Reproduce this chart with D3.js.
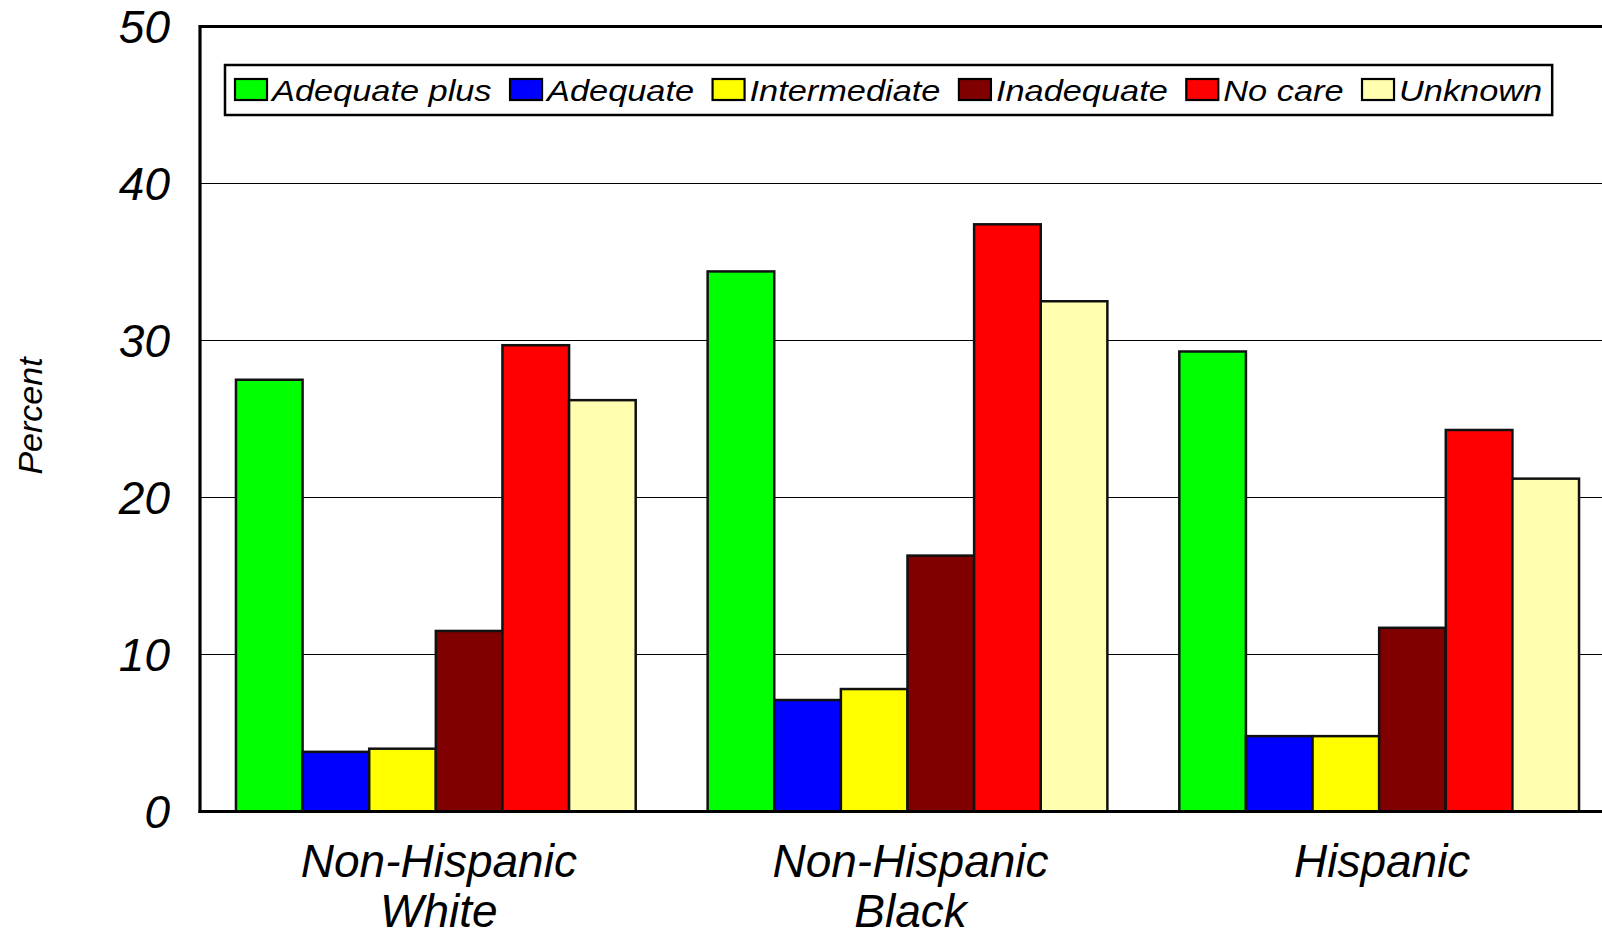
<!DOCTYPE html>
<html>
<head>
<meta charset="utf-8">
<script src="https://cdn.jsdelivr.net/npm/d3@7"></script>
<style>
  html, body { margin: 0; padding: 0; background: #fff; overflow: hidden; }
  svg { display: block; font-family: "Liberation Sans", Arial, sans-serif; font-style: italic; }
</style>
</head>
<body>
<svg id="chart" width="1602" height="936"></svg>
<script>
const categories = [["Non-Hispanic", "White"], ["Non-Hispanic", "Black"], ["Hispanic"]];
const categoryKeys = ["Non-Hispanic White", "Non-Hispanic Black", "Hispanic"];
const seriesNames = ["Adequate plus", "Adequate", "Intermediate", "Inadequate", "No care", "Unknown"];
const seriesColors = ["#00ff00", "#0000ff", "#ffff00", "#800000", "#ff0000", "#ffffaf"];
const adequatePlus = [27.5, 34.4, 29.3];
const adequate = [3.8, 7.1, 4.8];
const intermediate = [4.0, 7.8, 4.8];
const inadequate = [11.5, 16.3, 11.7];
const noCare = [29.7, 37.4, 24.3];
const unknown = [26.2, 32.5, 21.2];
const yTicks = [0, 10, 20, 30, 40, 50];

const seriesValues = [adequatePlus, adequate, intermediate, inadequate, noCare, unknown];

(function () {
const svg = d3.select("#chart");
const pLeft = 200, pRight = 1615, pTop = 26.5, pBottom = 811.5;

const x0 = d3.scaleBand().domain(categoryKeys).range([pLeft, pRight]).paddingInner(0.1525).paddingOuter(0.07625);
const x1 = d3.scaleBand().domain(seriesNames).range([0, x0.bandwidth()]).padding(0);
const y = d3.scaleLinear().domain([0, 50]).range([pBottom, pTop]);

// gridlines
svg.append("g").selectAll("line").data(yTicks.filter(t => t > 0 && t < 50)).join("line")
  .attr("x1", pLeft).attr("x2", pRight)
  .attr("y1", d => y(d)).attr("y2", d => y(d))
  .attr("stroke", "#000").attr("stroke-width", 1.2);

// top border
svg.append("line").attr("x1", pLeft).attr("x2", pRight).attr("y1", y(50)).attr("y2", y(50))
  .attr("stroke", "#000").attr("stroke-width", 3);

// bars
const groups = svg.append("g").selectAll("g").data(categoryKeys).join("g")
  .attr("transform", d => `translate(${x0(d)},0)`);
groups.selectAll("rect").data((d, i) => seriesNames.map((s, j) => ({ s, v: seriesValues[j][i], c: seriesColors[j] })))
  .join("rect")
  .attr("x", d => x1(d.s))
  .attr("width", x1.bandwidth())
  .attr("y", d => y(d.v))
  .attr("height", d => y(0) - y(d.v))
  .attr("fill", d => d.c)
  .attr("stroke", "#111")
  .attr("stroke-width", 2.5);

// axes lines
svg.append("line").attr("x1", pLeft).attr("x2", pLeft).attr("y1", y(50) - 1.5).attr("y2", y(0) + 1.5)
  .attr("stroke", "#000").attr("stroke-width", 3.2);
svg.append("line").attr("x1", pLeft - 1.5).attr("x2", pRight).attr("y1", y(0)).attr("y2", y(0))
  .attr("stroke", "#000").attr("stroke-width", 3.2);

// y tick labels
svg.append("g").selectAll("text").data(yTicks).join("text")
  .attr("x", 170).attr("y", d => y(d)).attr("dy", "0.36em")
  .attr("text-anchor", "end").attr("font-size", 46).attr("fill", "#000")
  .text(d => d);

// y label
svg.append("text").attr("transform", "translate(42,416) rotate(-90)")
  .attr("text-anchor", "middle").attr("font-size", 34).attr("fill", "#000").text("Percent");

// category labels
const catG = svg.append("g").selectAll("text").data(categoryKeys).join("text")
  .attr("y", 877)
  .attr("text-anchor", "middle").attr("font-size", 46).attr("fill", "#000");
catG.each(function(d, i) {
  const t = d3.select(this);
  categories[i].forEach((line, k) => {
    t.append("tspan").attr("x", x0(d) + x0.bandwidth() / 2 + 3).attr("dy", k === 0 ? 0 : 50).text(line);
  });
});

// legend
const legend = svg.append("g");
const box = legend.append("rect").attr("x", 225).attr("y", 65).attr("width", 1330).attr("height", 50)
  .attr("fill", "#fff").attr("stroke", "#000").attr("stroke-width", 2.5);
const sx = 1.145;
let cx = 235;
seriesNames.forEach((name, j) => {
  legend.append("rect").attr("x", cx).attr("y", 79).attr("width", 32).attr("height", 21)
    .attr("fill", seriesColors[j]).attr("stroke", "#000").attr("stroke-width", 2.2);
  const tx = cx + 37;
  const t = legend.append("text").attr("transform", `translate(${tx},100.5) scale(${sx},1)`)
    .attr("font-size", 30).attr("fill", "#000").text(name);
  const w = t.node().getComputedTextLength() * sx;
  cx = tx + w + 18.5;
});
box.attr("width", cx - 18.5 + 10 - 225);
})();
</script>
</body>
</html>
